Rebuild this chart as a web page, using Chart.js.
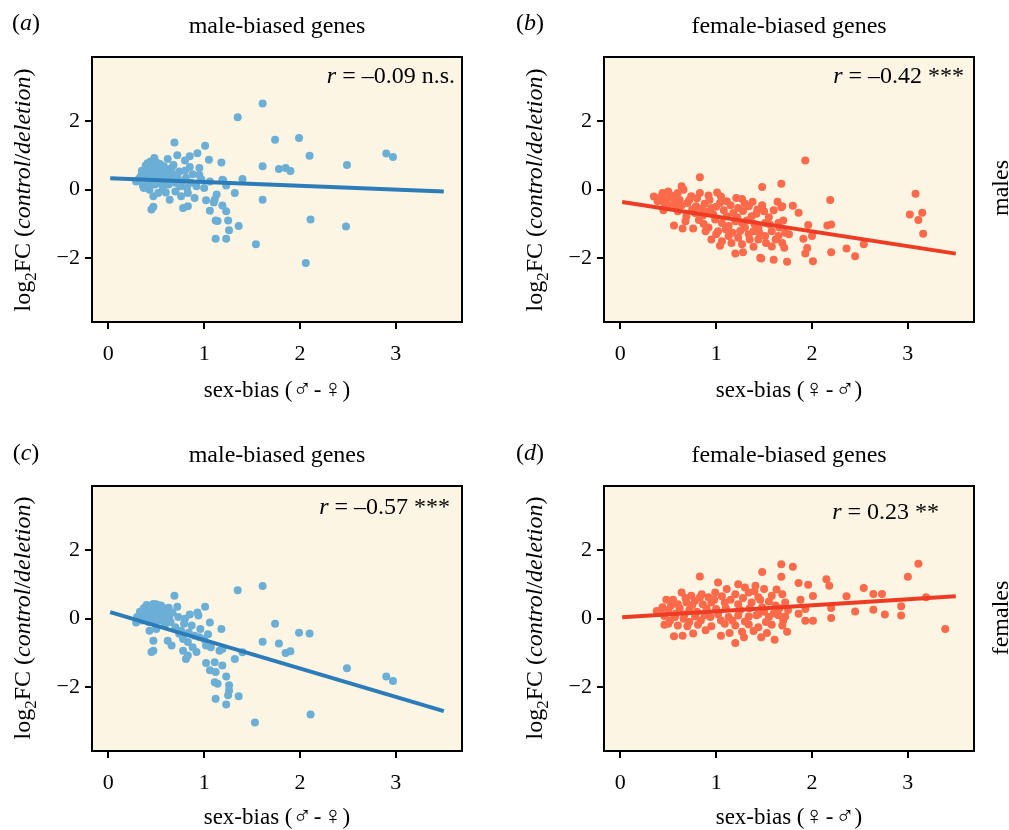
<!DOCTYPE html>
<html>
<head>
<meta charset="utf-8">
<script src="https://cdn.jsdelivr.net/npm/chart.js@4.4.1/dist/chart.umd.min.js"></script>
<style>
  body { margin: 0; background: #fff; width: 1009px; height: 830px; position: relative; overflow: hidden;
         font-family: "Liberation Serif", "Times New Roman", serif; color: #000; }
  canvas { position: absolute; }
  .lbl { position: absolute; white-space: nowrap; font-size: 24px; line-height: 1; transform: translate(-50%, -50%); z-index: 2; }
  .rot { transform: translate(-50%, -50%) rotate(-90deg); }
  .ax { font-size: 23px; line-height: 24px; height: 24px; }
  .sym { font-family: "DejaVu Sans", sans-serif; font-weight: 200; font-size: 112%; line-height: 0; }
  sub { font-size: 70%; vertical-align: -0.35em; line-height: 0; }
</style>
</head>
<body>

<div class="lbl" style="left:26px; top:22px">(<i>a</i>)</div>
<div class="lbl" style="left:530px; top:22px">(<i>b</i>)</div>
<div class="lbl" style="left:26px; top:452px">(<i>c</i>)</div>
<div class="lbl" style="left:530px; top:452px">(<i>d</i>)</div>

<div class="lbl" style="left:277px; top:25px">male-biased genes</div>
<div class="lbl" style="left:789px; top:25px">female-biased genes</div>
<div class="lbl" style="left:277px; top:454px">male-biased genes</div>
<div class="lbl" style="left:789px; top:454px">female-biased genes</div>

<div class="lbl rot" style="left:22px; top:190px">log<sub>2</sub>FC (<i>control</i>/<i>deletion</i>)</div>
<div class="lbl rot" style="left:534px; top:190px">log<sub>2</sub>FC (<i>control</i>/<i>deletion</i>)</div>
<div class="lbl rot" style="left:22px; top:618px">log<sub>2</sub>FC (<i>control</i>/<i>deletion</i>)</div>
<div class="lbl rot" style="left:534px; top:618px">log<sub>2</sub>FC (<i>control</i>/<i>deletion</i>)</div>

<div class="lbl ax" style="left:277px; top:390px">sex-bias (<span class="sym">♂</span>&#8202;-&#8202;<span class="sym">♀</span>)</div>
<div class="lbl ax" style="left:789px; top:390px">sex-bias (<span class="sym">♀</span>&#8202;-&#8202;<span class="sym">♂</span>)</div>
<div class="lbl ax" style="left:277px; top:817px">sex-bias (<span class="sym">♂</span>&#8202;-&#8202;<span class="sym">♀</span>)</div>
<div class="lbl ax" style="left:789px; top:817px">sex-bias (<span class="sym">♀</span>&#8202;-&#8202;<span class="sym">♂</span>)</div>

<div class="lbl rot" style="left:1000px; top:188px">males</div>
<div class="lbl rot" style="left:1000px; top:618px">females</div>

<canvas id="chartA" width="480" height="415" style="left:12px; top:0px; width:480px; height:415px"></canvas>
<canvas id="chartB" width="480" height="415" style="left:524px; top:0px; width:480px; height:415px"></canvas>
<canvas id="chartC" width="480" height="415" style="left:12px; top:429px; width:480px; height:415px"></canvas>
<canvas id="chartD" width="480" height="415" style="left:524px; top:429px; width:480px; height:415px"></canvas>

<script>
const xTicks = [0, 1, 2, 3];
const yTicks = [-2, 0, 2];

// (a) male-biased genes, males
const aX = [0.69, 1.01, 0.93, 0.85, 0.72, 0.80, 0.48, 0.62, 0.41, 1.18,
            0.95, 0.85, 0.74, 0.66, 0.53, 0.43, 0.34, 0.29, 0.40, 0.50,
            0.59, 0.69, 0.81, 0.95, 1.06, 1.19, 1.40, 1.61, 0.43, 0.47,
            0.57, 0.64, 0.76, 0.83, 0.90, 0.78, 0.83, 0.45, 0.47, 1.02,
            1.11, 1.13, 1.19, 1.06, 1.23, 1.32, 1.12, 1.25, 1.26, 1.36,
            1.12, 1.23, 1.54, 1.61, 1.61, 1.35, 1.74, 1.99, 2.10, 2.90,
            2.97, 2.49, 1.78, 1.85, 1.90, 2.11, 2.48, 2.06, 1.05, 1.20,
            1.23, 1.10, 1.14, 0.32, 0.35, 0.36, 0.38, 0.39, 0.41, 0.42,
            0.43, 0.44, 0.45, 0.46, 0.47, 0.48, 0.49, 0.50, 0.51, 0.52,
            0.53, 0.54, 0.55, 0.56, 0.57, 0.58, 0.60, 0.61, 0.63, 0.64,
            0.66, 0.68, 0.70, 0.72, 0.75, 0.78, 0.80, 0.82, 0.86, 0.88,
            0.92, 0.97, 1.00, 0.60, 0.70, 0.52, 0.37];
const aY = [1.37, 1.28, 1.06, 0.97, 1.00, 0.85, 0.92, 0.89, 0.77, 0.79,
            0.63, 0.66, 0.53, 0.63, 0.68, 0.53, 0.39, 0.24, 0.19, 0.29,
            0.39, 0.43, 0.34, 0.43, 0.24, 0.29, 0.31, 0.68, 0.00, -0.19,
            0.00, -0.29, -0.19, -0.10, -0.24, -0.53, -0.48, -0.58, -0.50, -0.31,
            -0.29, -0.14, -0.46, -0.61, -0.63, -0.10, -0.90, -0.90, -1.18, -1.06,
            -1.43, -1.43, -1.59, -0.29, 2.51, 2.11, 1.45, 1.50, 0.99, 1.05,
            0.95, 0.72, 0.60, 0.63, 0.54, -0.87, -1.07, -2.13, 0.87, 0.27,
            0.12, -0.37, -0.91, 0.32, 0.55, 0.12, 0.45, 0.70, 0.30, 0.62,
            0.10, 0.82, 0.40, 0.25, 0.70, 0.50, 0.15, 0.80, 0.42, 0.60,
            0.22, 0.75, 0.35, 0.52, 0.10, 0.68, 0.28, 0.55, 0.15, 0.45,
            0.30, 0.72, 0.20, 0.38, 0.10, 0.25, 0.55, 0.05, 0.20, 0.45,
            0.10, 0.30, 0.05, -0.08, -0.05, -0.10, 0.05];

// (b) female-biased genes, males
const bX = [1.93, 0.83, 1.48, 1.68, 0.64, 0.66, 2.19, 1.80, 1.86, 1.68,
            1.96, 2.16, 2.20, 1.91, 2.00, 1.95, 1.93, 2.01, 2.20, 2.36,
            2.45, 2.54, 3.08, 3.02, 3.15, 3.11, 3.16, 1.74, 1.60, 1.47,
            1.20, 1.28, 0.56, 0.65, 0.76, 0.89, 1.76, 0.44, 0.53, 0.60,
            0.39, 0.46, 0.57, 0.74, 0.83, 0.92, 1.01, 0.70, 0.79, 0.88,
            0.95, 1.04, 1.11, 1.21, 1.27, 0.60, 0.69, 0.78, 0.86, 0.99,
            1.06, 1.13, 1.20, 1.27, 1.34, 1.43, 1.50, 1.23, 1.37, 1.02,
            1.13, 1.23, 1.34, 1.44, 1.51, 1.06, 1.16, 1.27, 1.39, 1.58,
            1.65, 1.69, 1.71, 1.46, 1.69, 1.51, 1.44, 1.56, 1.65, 1.30,
            1.39, 1.11, 1.18, 0.95, 1.04, 0.42, 0.48, 0.50, 0.55, 0.62,
            0.64, 0.72, 0.75, 0.80, 0.85, 0.90, 0.93, 0.97, 1.00, 1.05,
            1.08, 1.10, 1.15, 1.17, 1.22, 1.25, 1.28, 1.30, 1.32, 1.35,
            1.38, 1.40, 1.42, 1.45, 1.48, 1.52, 1.55, 1.58, 1.60, 1.62,
            1.64, 1.66, 1.70, 1.72, 0.68, 0.82, 0.87, 0.92, 1.00, 0.58,
            0.50, 0.45, 0.35];
const bY = [0.85, 0.36, 0.08, 0.17, 0.10, 0.00, -0.30, -0.47, -0.67, -0.51,
            -1.03, -1.04, -1.01, -1.43, -1.35, -1.70, -1.86, -2.08, -1.82, -1.71,
            -1.94, -1.59, -0.12, -0.72, -0.67, -0.88, -1.28, -2.10, -2.04, -2.00,
            -1.86, -1.82, -1.04, -1.13, -1.13, -1.21, -1.30, -0.10, -0.17, -0.10,
            -0.34, -0.39, -0.37, -0.19, -0.10, -0.17, -0.08, -0.39, -0.48, -0.41,
            -0.53, -0.39, -0.34, -0.24, -0.27, -0.63, -0.77, -0.68, -0.75, -0.87,
            -0.97, -1.06, -0.92, -0.97, -0.48, -0.58, -0.63, -0.53, -0.77, -1.21,
            -1.35, -1.40, -1.30, -1.45, -1.35, -1.50, -1.55, -1.59, -1.66, -1.21,
            -1.35, -1.55, -1.69, -1.98, -0.48, -0.97, -1.11, -1.01, -0.97, -1.11,
            -1.21, -0.77, -0.68, -1.45, -1.63, -0.22, -0.28, -0.05, -0.25, -0.30,
            -0.45, -0.30, -0.58, -0.25, -0.55, -0.65, -0.30, -0.72, -0.50, -0.20,
            -0.60, -1.15, -0.45, -1.25, -0.80, -1.20, -0.62, -0.40, -0.90, -1.45,
            -0.35, -1.00, -0.70, -1.25, -0.45, -1.55, -0.80, -1.65, -0.60, -1.45,
            -0.35, -1.10, -0.90, -1.25, -0.92, -0.88, -1.00, -1.10, -1.30, -0.50,
            -0.45, -0.60, -0.20];

// (c) male-biased genes, females
const cX = [0.69, 1.01, 0.72, 0.93, 0.94, 0.85, 0.80, 1.06, 1.18, 0.47,
            0.41, 0.38, 0.34, 0.53, 0.60, 0.64, 0.43, 0.52, 0.57, 0.29,
            0.43, 0.50, 0.47, 0.45, 0.47, 0.62, 0.66, 0.74, 0.78, 0.83,
            0.88, 0.92, 0.78, 0.81, 0.83, 0.95, 1.02, 1.07, 1.16, 1.19,
            1.02, 1.11, 1.06, 1.19, 1.12, 1.32, 1.23, 1.11, 1.14, 1.26,
            1.26, 1.36, 1.12, 1.25, 1.61, 1.35, 1.61, 1.74, 1.99, 2.10,
            2.90, 2.97, 2.49, 1.78, 1.85, 1.90, 1.40, 2.11, 1.53, 1.23,
            0.30, 0.33, 0.35, 0.37, 0.39, 0.40, 0.42, 0.44, 0.45, 0.46,
            0.48, 0.49, 0.50, 0.51, 0.53, 0.54, 0.55, 0.56, 0.58, 0.59,
            0.61, 0.63, 0.65, 0.67, 0.70, 0.73, 0.76, 0.79, 0.84, 0.87,
            0.90, 0.96, 1.00, 1.04];
const cY = [0.67, 0.35, 0.35, 0.18, 0.09, 0.12, 0.00, -0.11, -0.30, 0.43,
            0.28, 0.18, 0.04, 0.38, 0.23, 0.09, 0.04, 0.09, -0.06, -0.11,
            -0.35, -0.30, -0.64, -0.97, -0.93, -0.64, -0.78, -0.44, -0.59, -0.68,
            -0.83, -0.97, -0.93, -1.17, -1.07, -0.54, -0.78, -0.83, -0.93, -0.88,
            -1.29, -1.27, -1.50, -1.36, -1.55, -1.17, -1.68, -1.85, -1.89, -1.94,
            -2.09, -2.26, -2.33, -2.23, -0.67, 0.83, 0.95, -0.15, -0.41, -0.43,
            -1.68, -1.81, -1.44, -0.72, -1.00, -0.95, -0.98, -2.79, -3.02, -2.50,
            0.05, 0.20, -0.05, 0.30, 0.10, 0.40, -0.10, 0.20, 0.35, 0.00,
            0.25, -0.15, 0.42, 0.12, 0.25, -0.05, 0.38, 0.15, 0.30, -0.20,
            0.05, 0.32, -0.10, 0.18, -0.25, 0.05, -0.35, -0.15, -0.40, -0.20,
            -0.50, -0.30, -0.60, -0.45];

// (d) female-biased genes, females
const dX = [3.11, 3.00, 3.39, 3.19, 2.93, 2.93, 2.76, 2.64, 2.64, 2.73,
            2.54, 2.45, 2.36, 2.15, 2.18, 2.20, 2.20, 2.01, 1.96, 1.86,
            1.93, 2.01, 1.86, 1.88, 1.68, 1.80, 1.68, 1.48, 0.83, 1.20,
            1.29, 0.56, 0.65, 0.76, 0.89, 1.05, 1.47, 1.61, 1.74, 0.46,
            1.02, 1.11, 1.23, 1.30, 1.41, 1.50, 0.64, 0.74, 0.85, 0.92,
            0.99, 1.20, 1.34, 1.44, 1.58, 1.69, 0.44, 0.53, 0.60, 0.69,
            0.78, 0.86, 0.95, 1.09, 1.23, 1.37, 1.48, 1.62, 1.72, 1.93,
            0.46, 0.57, 0.67, 0.78, 0.88, 1.02, 1.13, 1.23, 1.34, 1.44,
            1.55, 1.65, 1.72, 0.50, 0.60, 0.70, 0.81, 0.95, 1.09, 1.20,
            1.34, 1.44, 1.58, 1.69, 1.14, 1.27, 1.39, 1.53, 0.42, 0.50,
            0.52, 0.55, 0.58, 0.62, 0.66, 0.68, 0.72, 0.75, 0.80, 0.83,
            0.84, 0.90, 0.94, 0.98, 1.00, 1.05, 1.06, 1.10, 1.15, 1.17,
            1.25, 1.28, 1.30, 1.35, 1.40, 1.42, 1.46, 1.50, 1.52, 1.55,
            1.60, 1.63, 1.66, 1.70, 1.75, 0.48, 0.38, 0.72];
const dY = [1.60, 1.22, -0.30, 0.62, 0.36, 0.09, 0.12, 0.26, 0.72, 0.72,
            0.89, 0.21, 0.65, 1.15, 0.96, 0.02, 0.31, 0.66, 0.99, 1.04,
            -0.06, -0.06, 0.14, 0.55, 1.58, 1.51, 1.22, 1.36, 1.23, -0.71,
            -0.54, -0.51, -0.50, -0.43, -0.34, -0.50, -0.54, -0.61, -0.38, -0.18,
            1.05, 0.86, 1.00, 0.91, 0.96, 0.86, 0.76, 0.67, 0.71, 0.62,
            0.76, 0.71, 0.76, 0.62, 0.67, 0.71, 0.33, 0.38, 0.42, 0.47,
            0.52, 0.42, 0.47, 0.47, 0.42, 0.47, 0.33, 0.38, 0.47, 0.28,
            0.08, 0.05, 0.12, 0.06, 0.10, 0.13, 0.05, 0.09, 0.06, 0.13,
            0.05, 0.10, 0.06, -0.15, -0.20, -0.22, -0.18, -0.22, -0.15, -0.20,
            -0.17, -0.25, -0.18, -0.20, -0.42, -0.38, -0.36, -0.42, 0.18, 0.25,
            -0.05, 0.55, 0.15, 0.30, 0.00, 0.60, 0.25, 0.40, 0.20, 0.62,
            -0.05, 0.30, 0.05, 0.55, 0.28, -0.05, 0.65, 0.30, 0.55, -0.05,
            0.25, 0.60, -0.08, 0.30, 0.80, 0.10, 0.55, 0.20, -0.10, 0.50,
            0.15, 0.85, 0.30, -0.05, 0.25, 0.55, 0.22, -0.10];

// regression lines (end points)
const fitX = [0.02, 3.50];
const aFit = [0.33, -0.05];
const bFit = [-0.36, -1.86];
const cFit = [0.19, -2.69];
const dFit = [0.04, 0.65];

const SERIF = '"Liberation Serif", "DejaVu Sans", serif';
const BG = '#fdf5e3';
const BLUE_DOT = '#6baed6', BLUE_LINE = '#2b7cb9';
const RED_DOT = '#fb6a4a', RED_LINE = '#ee3b24';

function makeChart(id, xs, ys, fitY, dotColor, lineColor, note) {
    const pts = xs.map((x, i) => ({ x: x, y: ys[i] }));
    const line = fitX.map((x, i) => ({ x: x, y: fitY[i] }));

    // cream panel, black box and the r annotation
    const panelPlugin = {
        id: 'panel' + id,
        beforeDraw(chart) {
            const a = chart.chartArea, ctx = chart.ctx;
            ctx.save();
            ctx.fillStyle = BG;
            ctx.fillRect(a.left, a.top, a.right - a.left, a.bottom - a.top);
            ctx.restore();
        },
        afterDraw(chart) {
            const a = chart.chartArea, ctx = chart.ctx;
            ctx.save();
            ctx.strokeStyle = '#000';
            ctx.lineWidth = 2;
            ctx.strokeRect(a.left, a.top, a.right - a.left, a.bottom - a.top);

            ctx.fillStyle = '#000';
            ctx.textBaseline = 'middle';
            ctx.font = '24px ' + SERIF;
            const wRest = ctx.measureText(note.rest).width;
            ctx.font = 'italic 24px ' + SERIF;
            const wR = ctx.measureText('r').width;
            const x0 = a.right - note.right - wRest - wR;
            const y0 = a.top + note.dy;
            ctx.fillText('r', x0, y0);
            ctx.font = '24px ' + SERIF;
            ctx.fillText(note.rest, x0 + wR, y0);
            ctx.restore();
        }
    };

    new Chart(document.getElementById(id), {
        type: 'scatter',
        data: {
            datasets: [
                { type: 'line', data: line, borderColor: lineColor, borderWidth: 4,
                  pointRadius: 0, fill: false, borderCapStyle: 'butt' },
                { data: pts, backgroundColor: dotColor, borderWidth: 0, pointRadius: 4 }
            ]
        },
        options: {
            responsive: false,
            animation: false,
            events: [],
            layout: { padding: { left: 0, top: 57, right: 30, bottom: 9 } },
            plugins: { legend: { display: false }, tooltip: { enabled: false } },
            scales: {
                x: {
                    type: 'linear', min: -0.17, max: 3.69,
                    afterBuildTicks: s => { s.ticks = xTicks.map(v => ({ value: v })); },
                    afterFit: s => { s.height = 84; },
                    grid: { drawOnChartArea: false, drawTicks: true, tickLength: 7, color: '#000', lineWidth: 2 },
                    border: { display: false },
                    ticks: { color: '#000', font: { family: SERIF, size: 22 }, padding: 12, maxRotation: 0 }
                },
                y: {
                    type: 'linear', min: -3.85, max: 3.86,
                    afterBuildTicks: s => { s.ticks = yTicks.map(v => ({ value: v })); },
                    afterFit: s => { s.width = 80; },
                    grid: { drawOnChartArea: false, drawTicks: true, tickLength: 7, color: '#000', lineWidth: 2 },
                    border: { display: false },
                    ticks: { color: '#000', font: { family: SERIF, size: 22 }, padding: 5,
                             callback: v => v < 0 ? '\u2212' + (-v) : '' + v }
                }
            }
        },
        plugins: [panelPlugin]
    });
}

makeChart('chartA', aX, aY, aFit, BLUE_DOT, BLUE_LINE, { rest: ' = \u20130.09 n.s.', right: 7, dy: 20 });
makeChart('chartB', bX, bY, bFit, RED_DOT, RED_LINE, { rest: ' = \u20130.42 ***', right: 10, dy: 20 });
makeChart('chartC', cX, cY, cFit, BLUE_DOT, BLUE_LINE, { rest: ' = \u20130.57 ***', right: 12, dy: 22 });
makeChart('chartD', dX, dY, dFit, RED_DOT, RED_LINE, { rest: ' = 0.23 **', right: 35, dy: 27 });
</script>
</body>
</html>
